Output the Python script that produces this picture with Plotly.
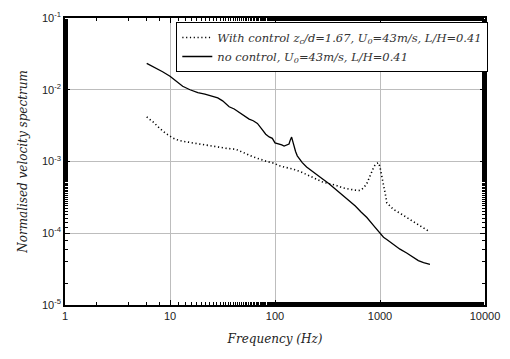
import plotly.graph_objects as go

# no control (solid)
f_nc = [6.0, 7.2, 8.5, 10, 11.5, 13.2, 15.5, 18.4, 21.5, 25.5, 28.5, 31.7, 34, 36.6, 40.9, 44, 47.3, 52, 56.7, 62, 68, 74, 81.6, 88, 94.3, 100, 109, 116, 122, 130, 136, 140, 144, 147, 151, 157, 163, 172, 181, 200, 220, 243, 280, 325, 380, 434, 500, 582, 660, 750, 870, 1000, 1080, 1160, 1342, 1550, 1795, 2050, 2318, 2600, 2990]
v_nc = [0.0233, 0.0205, 0.0178, 0.0154, 0.0131, 0.0112, 0.0100, 0.0091, 0.0087, 0.0082, 0.0077, 0.0070, 0.0064, 0.0058, 0.0054, 0.0050, 0.0046, 0.0042, 0.0039, 0.0037, 0.0034, 0.0029, 0.0024, 0.0022, 0.0021, 0.00182, 0.00177, 0.00170, 0.00164, 0.00168, 0.00175, 0.00200, 0.00219, 0.00195, 0.00164, 0.00138, 0.00120, 0.00108, 0.00097, 0.00084, 0.00075, 0.00068, 0.00058, 0.000495, 0.00041, 0.000344, 0.00029, 0.000239, 0.000198, 0.000166, 0.000128, 0.000100, 0.000088, 0.000082, 0.000069, 0.000060, 0.000053, 0.000047, 0.0000416, 0.0000390, 0.0000367]

# with control (dotted)
f_wc = [6.0, 7.0, 7.95, 9.0, 10.6, 12.2, 14.2, 17, 20.5, 25, 29.4, 35, 42.4, 47, 52.7, 60, 70.5, 82, 97.8, 109, 125, 146, 175, 210, 245, 281, 325, 376, 440, 503, 570, 649, 700, 750, 800, 836, 880, 933, 970, 1000, 1040, 1080, 1120, 1161, 1250, 1342, 1550, 1795, 2050, 2318, 2600, 2990]
v_wc = [0.00418, 0.0035, 0.0029, 0.0025, 0.00213, 0.00196, 0.00188, 0.00180, 0.00173, 0.00164, 0.00156, 0.00152, 0.00148, 0.00140, 0.00129, 0.00118, 0.00108, 0.00101, 0.000945, 0.000877, 0.00083, 0.00079, 0.00072, 0.000642, 0.00058, 0.000522, 0.00049, 0.00047, 0.00043, 0.000411, 0.00040, 0.000394, 0.00043, 0.000495, 0.00062, 0.00075, 0.00086, 0.000944, 0.00096, 0.000834, 0.00064, 0.000495, 0.00036, 0.000265, 0.000235, 0.000215, 0.000190, 0.000166, 0.000146, 0.000128, 0.000116, 0.000104]

x_ticks = [1, 10, 100, 1000, 10000]
x_labels = ["1", "10", "100", "1000", "10000"]
y_ticks = [1e-5, 1e-4, 1e-3, 1e-2, 1e-1]
y_labels = ["10<sup>-5</sup>", "10<sup>-4</sup>", "10<sup>-3</sup>", "10<sup>-2</sup>", "10<sup>-1</sup>"]

fig = go.Figure()
fig.add_trace(go.Scatter(
    x=f_wc, y=v_wc, mode="lines",
    line=dict(color="black", width=1.6, dash="1.2px,2.6px"),
    name="<i>With control z<sub>c</sub>/d=1.67, U<sub>0</sub>=43m/s, L/H=0.41</i>"))
fig.add_trace(go.Scatter(
    x=f_nc, y=v_nc, mode="lines",
    line=dict(color="black", width=1.3),
    name="<i>no control, U<sub>0</sub>=43m/s, L/H=0.41</i>"))

axis_common = dict(
    type="log", showline=True, linecolor="black", linewidth=1.5, mirror="ticks",
    ticks="inside", ticklen=5, tickcolor="black",
    showgrid=True, gridcolor="#bdbdbd", gridwidth=1, zeroline=False,
    tickfont=dict(family="Liberation Sans", size=11, color="#222"),
    minor=dict(ticks="inside", ticklen=3, tickcolor="black", showgrid=False),
)

fig.update_xaxes(**axis_common, range=[0, 4], tickvals=x_ticks, ticktext=x_labels,
                 title=dict(text="<i>Frequency (Hz)</i>", font=dict(family="DejaVu Serif", size=12, color="#222"), standoff=14))
fig.update_yaxes(**axis_common, range=[-5, -1], tickvals=y_ticks, ticktext=y_labels,
                 title=dict(text="<i>Normalised velocity spectrum</i>", font=dict(family="DejaVu Serif", size=12, color="#222"), standoff=12))

fig.update_layout(
    width=510, height=359,
    margin=dict(l=65, r=23, t=10, b=54),
    paper_bgcolor="white", plot_bgcolor="white",
    showlegend=True,
    legend=dict(x=0.265, y=0.986, xanchor="left", yanchor="top",
                bordercolor="black", borderwidth=1, bgcolor="white",
                font=dict(family="DejaVu Serif", size=11.5, color="#333"),
                itemwidth=30, tracegroupgap=0),
)

fig.write_html("out.html")
